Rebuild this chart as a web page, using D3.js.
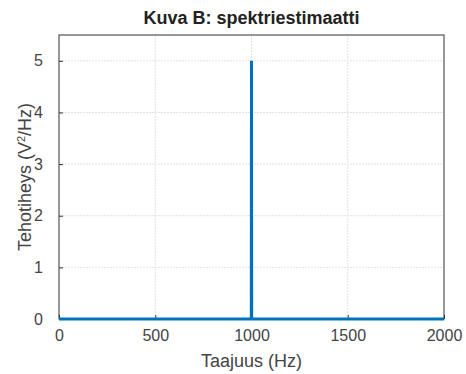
<!DOCTYPE html>
<html>
<head>
<meta charset="utf-8">
<script src="https://cdn.jsdelivr.net/npm/d3@7"></script>
<style>
  body { margin: 0; background: #fff; }
  text { font-family: "Liberation Sans", Arial, sans-serif; }
</style>
</head>
<body>
<svg id="chart" width="466" height="374"></svg>
<script>
// Spektriestimaatti: taajuus (Hz) ja tehotiheys (V^2/Hz)
const freqs = [0, 999, 1000, 1001, 2000];
const psd = [0, 0, 5, 0, 0];
const xTicks = [0, 500, 1000, 1500, 2000];
const yTicks = [0, 1, 2, 3, 4, 5];

const svg = d3.select("#chart");
const margin = { left: 59, right: 22, top: 35, bottom: 55 };
const W = 466, H = 374;

const x = d3.scaleLinear().domain([0, 2000]).range([margin.left, W - margin.right]);
const y = d3.scaleLinear().domain([0, 5.5]).range([H - margin.bottom, margin.top]);

// ruudukko
svg.append("g").selectAll("line.gx")
  .data(xTicks.slice(1, -1))
  .join("line")
  .attr("x1", d => x(d)).attr("x2", d => x(d))
  .attr("y1", y(0)).attr("y2", y(5.5))
  .attr("stroke", "#e2e2e2").attr("stroke-width", 1)
  .attr("stroke-dasharray", "2,1");

svg.append("g").selectAll("line.gy")
  .data(yTicks.slice(1))
  .join("line")
  .attr("x1", x(0)).attr("x2", x(2000))
  .attr("y1", d => y(d)).attr("y2", d => y(d))
  .attr("stroke", "#e2e2e2").attr("stroke-width", 1)
  .attr("stroke-dasharray", "2,1");

// akselit
const xAxis = svg.append("g")
  .attr("transform", `translate(0,${y(0)})`)
  .call(d3.axisBottom(x).tickValues(xTicks).tickFormat(d3.format("d")).tickSize(-4).tickPadding(11));
const yAxis = svg.append("g")
  .attr("transform", `translate(${x(0)},0)`)
  .call(d3.axisLeft(y).tickValues(yTicks).tickFormat(d3.format("d")).tickSize(-4).tickPadding(16));

[xAxis, yAxis].forEach(a => {
  a.select(".domain").remove();
  a.selectAll("line").attr("stroke", "#333");
  a.selectAll("text").attr("font-size", 16).attr("fill", "#444")
    .attr("font-family", "Liberation Sans, Arial, sans-serif");
});

// kehys
svg.append("rect")
  .attr("x", x(0)).attr("y", y(5.5))
  .attr("width", x(2000) - x(0)).attr("height", y(0) - y(5.5))
  .attr("fill", "none").attr("stroke", "#333").attr("stroke-width", 1);

// spektri
const line = d3.line().x((d, i) => x(freqs[i])).y(d => y(d));
svg.append("path")
  .datum(psd)
  .attr("d", line)
  .attr("fill", "none")
  .attr("stroke", "#0072BD")
  .attr("stroke-width", 3);

// otsikot
svg.append("text")
  .attr("x", (x(0) + x(2000)) / 2).attr("y", 24)
  .attr("text-anchor", "middle")
  .attr("font-size", 18).attr("font-weight", "bold").attr("fill", "#222")
  .text("Kuva B: spektriestimaatti");

svg.append("text")
  .attr("x", (x(0) + x(2000)) / 2).attr("y", 367)
  .attr("text-anchor", "middle")
  .attr("font-size", 18).attr("fill", "#444")
  .text("Taajuus (Hz)");

const yl = svg.append("text")
  .attr("transform", `translate(31,${(y(0) + y(5.5)) / 2}) rotate(-90)`)
  .attr("text-anchor", "middle")
  .attr("font-size", 18).attr("fill", "#444");
yl.append("tspan").text("Tehotiheys (V");
yl.append("tspan").attr("baseline-shift", "super").attr("font-size", 11).text("2");
yl.append("tspan").text("/Hz)");
</script>
</body>
</html>
